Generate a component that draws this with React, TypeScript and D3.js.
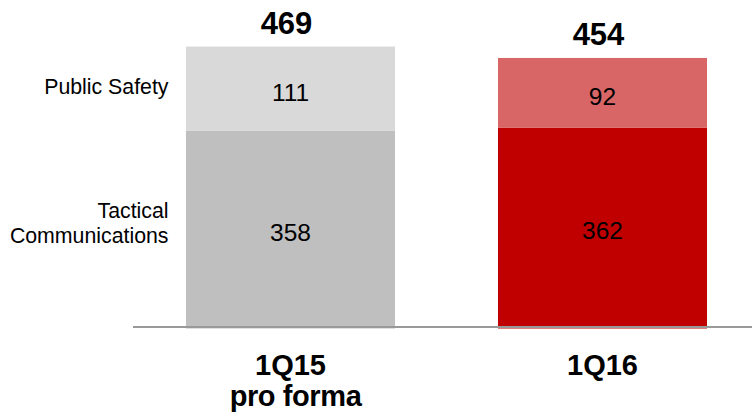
import React from "react";
import * as d3 from "d3";

const categories = ["1Q15", "1Q16"];
const categorySubLabels = ["pro forma", ""];
const tacticalValues = [358, 362];
const publicSafetyValues = [111, 92];
const totals = [469, 454];
const seriesNames = ["Tactical Communications", "Public Safety"];
const axisFloor = 100;
const axisCeil = 500;

const W = 752;
const H = 418;
const FONT = "Arial, 'Liberation Sans', Helvetica, sans-serif";

const darkColors = ["#bfbfbf", "#c00000"];
const lightColors = ["#d9d9d9", "#d96666"];

export default function App() {
  const x = d3
    .scaleBand<string>()
    .domain(categories)
    .range([134.5, 758.5])
    .paddingInner(0.33)
    .paddingOuter(0.165);
  const y = d3.scaleLinear().domain([axisFloor, axisCeil]).range([327, 23]);
  const bw = x.bandwidth();

  const psMid = (y(totals[0]) + y(tacticalValues[0])) / 2;
  const tcMid = (y(tacticalValues[0]) + y(axisFloor)) / 2;

  return (
    <svg
      width={W}
      height={H}
      style={{ position: "absolute", left: 0, top: 0, background: "#fff" }}
      fontFamily={FONT}
    >
      {categories.map((c, i) => {
        const x0 = x(c)!;
        const cx = x0 + bw / 2;
        const tc = tacticalValues[i];
        const ps = publicSafetyValues[i];
        const yTc = y(tc);
        const yTop = y(tc + ps);
        return (
          <g key={c}>
            <rect x={x0} y={yTc} width={bw} height={y(axisFloor) - yTc + 1.5} fill={darkColors[i]} />
            <rect x={x0} y={yTop} width={bw} height={yTc - yTop} fill={lightColors[i]} />
            <text x={cx} y={(yTop + yTc) / 2 + 12} textAnchor="middle" fontSize={24.5} fill="#000">
              {ps}
            </text>
            <text x={cx} y={(yTc + y(axisFloor)) / 2 + 12} textAnchor="middle" fontSize={24.5} fill="#000">
              {tc}
            </text>
            <text x={cx - 4} y={y(totals[i]) - 12.5} textAnchor="middle" fontSize={31} fontWeight="bold" fill="#000">
              {totals[i]}
            </text>
            <text x={cx} y={375} textAnchor="middle" fontSize={29} fontWeight="bold" fill="#000">
              {c}
            </text>
            {categorySubLabels[i] && (
              <text x={cx + 5} y={405.5} textAnchor="middle" fontSize={29} fontWeight="bold" fill="#000" letterSpacing={-0.4}>
                {categorySubLabels[i]}
              </text>
            )}
          </g>
        );
      })}
      <line x1={133} x2={W} y1={y(axisFloor)} y2={y(axisFloor)} stroke="#999999" strokeWidth={2.2} />
      <text x={168.5} y={psMid + 5.5} textAnchor="end" fontSize={21.3} fill="#000">
        {seriesNames[1]}
      </text>
      <text textAnchor="end" fontSize={21.3} fill="#000">
        <tspan x={168.5} y={tcMid - 11}>
          {seriesNames[0].split(" ")[0]}
        </tspan>
        <tspan x={168.5} y={tcMid + 13.7}>
          {seriesNames[0].split(" ")[1]}
        </tspan>
      </text>
    </svg>
  );
}
